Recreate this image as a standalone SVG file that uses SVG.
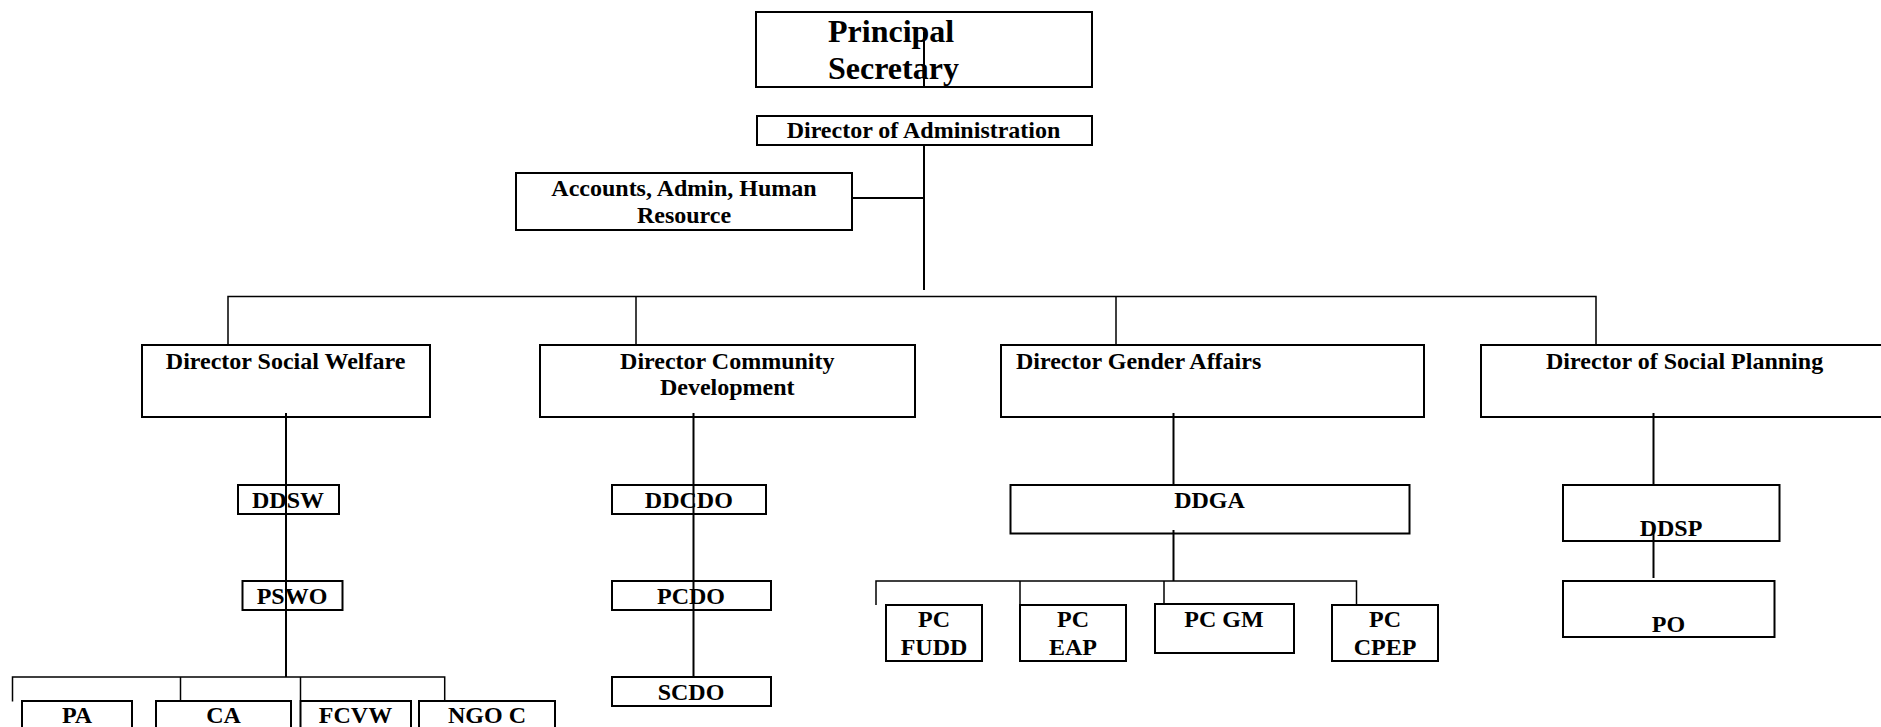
<svg xmlns="http://www.w3.org/2000/svg" width="1881" height="727" viewBox="0 0 1881 727">
<style>
  .box { fill: none; stroke: #000; stroke-width: 2; }
  .t { font-family: "Liberation Serif", "Times New Roman", serif; font-weight: bold; font-size: 24px; fill: #000; text-anchor: middle; }
  .big { font-size: 32px; text-anchor: start; }
  .st { text-anchor: start; }
  .c { stroke: #000; stroke-width: 2; fill: none; }
  .bus { stroke: #000; stroke-width: 1.5; fill: none; }
</style>
<rect width="1881" height="727" fill="#fff"/>
<g id="connectors">
  <line class="c" x1="924" y1="32" x2="924" y2="86"/>
  <line class="c" x1="924" y1="145" x2="924" y2="290"/>
  <line class="c" x1="852" y1="198" x2="924" y2="198"/>
  <polyline class="bus" points="228,344 228,296.5 1596,296.5 1596,344"/>
  <line class="bus" x1="636" y1="296.5" x2="636" y2="344"/>
  <line class="bus" x1="1116" y1="296.5" x2="1116" y2="344"/>
  <line class="c" x1="286" y1="413" x2="286" y2="677"/>
  <polyline class="bus" points="12.5,701.5 12.5,677 444.7,677 444.7,700"/>
  <line class="bus" x1="180.5" y1="677" x2="180.5" y2="700"/>
  <line class="bus" x1="300.5" y1="677" x2="300.5" y2="700"/>
  <line class="c" x1="693.5" y1="413" x2="693.5" y2="677"/>
  <line class="c" x1="1173.5" y1="413" x2="1173.5" y2="485"/>
  <line class="c" x1="1173.5" y1="530" x2="1173.5" y2="581"/>
  <polyline class="bus" points="876,605 876,581 1356.5,581 1356.5,605"/>
  <line class="bus" x1="1020" y1="581" x2="1020" y2="605"/>
  <line class="bus" x1="1164" y1="581" x2="1164" y2="604"/>
  <line class="c" x1="1653.5" y1="413" x2="1653.5" y2="485"/>
  <line class="c" x1="1653.5" y1="530" x2="1653.5" y2="578"/>
</g>
<g id="principal-secretary">
  <rect class="box" x="756" y="12" width="336" height="75"/>
  <text class="t big" x="828" y="41.5">Principal</text>
  <text class="t big" x="828" y="78.5">Secretary</text>
</g>
<g id="director-administration">
  <rect class="box" x="757" y="116" width="335" height="29"/>
  <text class="t" x="923.5" y="137.7">Director of Administration</text>
</g>
<g id="accounts">
  <rect class="box" x="516" y="173" width="336" height="57"/>
  <text class="t" x="684" y="195.7">Accounts, Admin, Human</text>
  <text class="t" x="684" y="223.3">Resource</text>
</g>
<g id="director-social-welfare">
  <rect class="box" x="142" y="345" width="288" height="72"/>
  <text class="t" x="285.6" y="368.5">Director Social Welfare</text>
</g>
<g id="director-community-development">
  <rect class="box" x="540" y="345" width="375" height="72"/>
  <text class="t" x="727.3" y="368.5">Director Community</text>
  <text class="t" x="727.3" y="395">Development</text>
</g>
<g id="director-gender-affairs">
  <rect class="box" x="1001" y="345" width="423" height="72"/>
  <text class="t st" x="1016" y="368.5">Director Gender Affairs</text>
</g>
<g id="director-social-planning">
  <rect class="box" x="1481" y="345" width="420" height="72"/>
  <text class="t" x="1684.6" y="369">Director of Social Planning</text>
</g>
<g id="ddsw">
  <rect class="box" x="238" y="485" width="101" height="29"/>
  <text class="t" x="288" y="508.3">DDSW</text>
</g>
<g id="pswo">
  <rect class="box" x="242.5" y="581" width="100" height="29"/>
  <text class="t" x="292" y="603.5">PSWO</text>
</g>
<g id="pa">
  <rect class="box" x="22" y="701" width="110" height="40"/>
  <text class="t" x="77" y="723.3">PA</text>
</g>
<g id="ca">
  <rect class="box" x="156" y="701" width="135" height="40"/>
  <text class="t" x="223.5" y="723.3">CA</text>
</g>
<g id="fcvw">
  <rect class="box" x="300.5" y="701" width="110.5" height="40"/>
  <text class="t" x="355.5" y="723.3">FCVW</text>
</g>
<g id="ngoc">
  <rect class="box" x="419" y="701" width="136" height="40"/>
  <text class="t" x="487" y="723.3">NGO C</text>
</g>
<g id="ddcdo">
  <rect class="box" x="612" y="485" width="154" height="29"/>
  <text class="t" x="688.8" y="507.7">DDCDO</text>
</g>
<g id="pcdo">
  <rect class="box" x="612" y="581" width="159" height="29"/>
  <text class="t" x="691" y="604">PCDO</text>
</g>
<g id="scdo">
  <rect class="box" x="612" y="677" width="159" height="29"/>
  <text class="t" x="691" y="700">SCDO</text>
</g>
<g id="ddga">
  <rect class="box" x="1010.5" y="485" width="399" height="48.5"/>
  <text class="t" x="1209.5" y="507.7">DDGA</text>
</g>
<g id="pc-fudd">
  <rect class="box" x="886" y="605" width="96" height="56"/>
  <text class="t" x="934" y="626.7">PC</text>
  <text class="t" x="934" y="655">FUDD</text>
</g>
<g id="pc-eap">
  <rect class="box" x="1020" y="605" width="106" height="56"/>
  <text class="t" x="1073" y="626.7">PC</text>
  <text class="t" x="1073" y="655">EAP</text>
</g>
<g id="pc-gm">
  <rect class="box" x="1155" y="604" width="139" height="49"/>
  <text class="t" x="1224" y="626.7">PC GM</text>
</g>
<g id="pc-cpep">
  <rect class="box" x="1332" y="605" width="106" height="56"/>
  <text class="t" x="1385" y="626.7">PC</text>
  <text class="t" x="1385" y="655">CPEP</text>
</g>
<g id="ddsp">
  <rect class="box" x="1563" y="485" width="216.5" height="56"/>
  <text class="t" x="1671" y="536">DDSP</text>
</g>
<g id="po">
  <rect class="box" x="1563" y="581" width="211.5" height="56"/>
  <text class="t" x="1668.5" y="631.7">PO</text>
</g>
</svg>
